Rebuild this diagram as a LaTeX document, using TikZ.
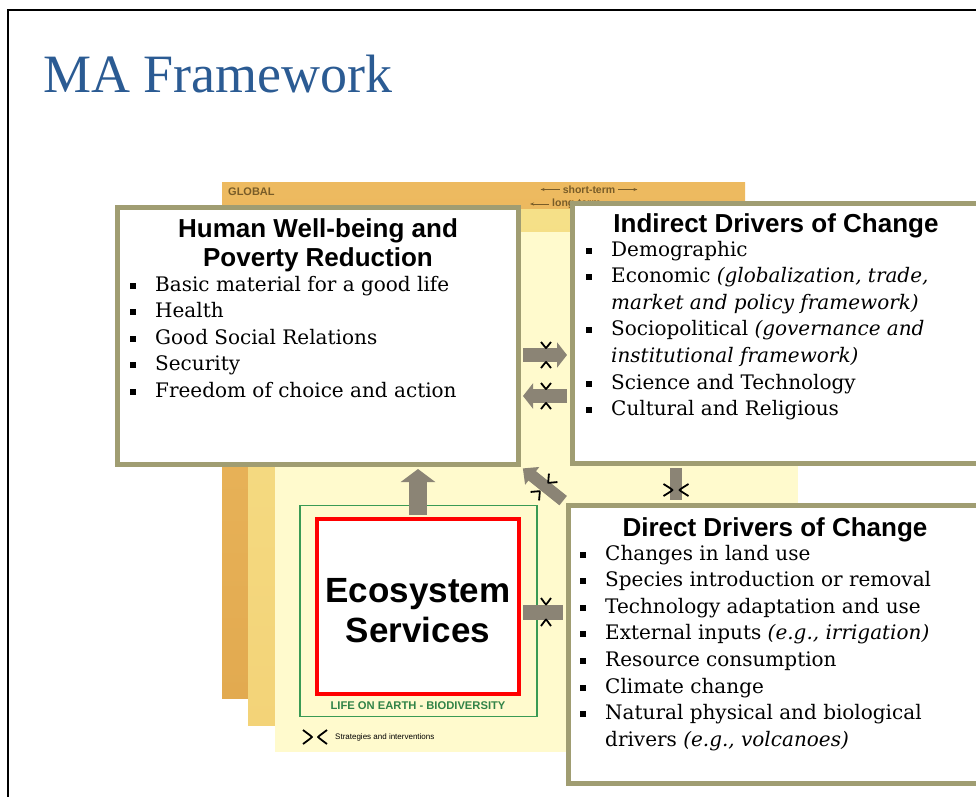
\documentclass[tikz,border=0pt]{standalone}
\usepackage{fontspec}
\setmainfont{DejaVu Serif}
\newfontfamily\headfont{Liberation Sans}
\newfontfamily\titlefont{Liberation Serif}
\usetikzlibrary{arrows.meta,calc,positioning}
\definecolor{frameol}{RGB}{160,157,114}
\definecolor{flowgray}{RGB}{139,132,117}
\definecolor{titleblue}{RGB}{43,91,147}
\definecolor{lifegreen}{RGB}{58,154,84}
\definecolor{labelbrown}{RGB}{120,92,40}
\newcommand\bitem{\makebox[25pt][l]{\rule[2.5pt]{6pt}{6pt}}}
\newcommand\bcont{\hspace*{25pt}}

\begin{document}
\begin{tikzpicture}[x=1pt,y=-1pt,>=Stealth,
  mabox/.style={draw=frameol,line width=5pt,fill=white,inner sep=0pt},
  bodytext/.style={anchor=base west,align=left,inner sep=0pt,font=\fontsize{20}{26.6}\selectfont},
  headtext/.style={anchor=base,align=center,inner sep=0pt,font=\headfont\bfseries\fontsize{26}{29}\selectfont},
  smalllbl/.style={inner sep=0pt,text=labelbrown,font=\headfont\bfseries\fontsize{10.5}{12}\selectfont},
  flow/.style={draw=flowgray,line width=#1},
  pics/strat/.style n args={3}{code={
    \draw[line width=1.8pt,line join=round]
      (-#2,-#3) .. controls (-#1-1,-1) .. (-#1,0) .. controls (-#1-1,1) .. (-#2,#3)
      (#2,-#3) .. controls (#1+1,-1) .. (#1,0) .. controls (#1+1,1) .. (#2,#3);}}]
\useasboundingbox (0,0) rectangle (976,796);
\clip (0,0) rectangle (976,796);
\draw[line width=2pt] (8,800) -- (8,10) -- (980,10);
\node[anchor=base west,inner sep=0pt,text=titleblue,font=\titlefont\fontsize{54}{60}\selectfont] (title) at (43,92) {MA Framework};

\shade[top color={rgb,255:red,237;green,186;blue,96},bottom color={rgb,255:red,226;green,170;blue,80}] (222,182) rectangle (745,698);
\shade[top color={rgb,255:red,245;green,224;blue,136},bottom color={rgb,255:red,243;green,211;blue,120}] (248,209) rectangle (772,725);
\fill[fill={rgb,255:red,255;green,250;blue,205}] (275,232) rectangle (798,752);
\node[smalllbl,anchor=west,font=\headfont\bfseries\fontsize{11}{12}\selectfont] (global) at (228,192) {GLOBAL};
\node[smalllbl] (shortt) at (589,189.5) {short-term};
\draw[labelbrown,line width=0.8pt,-{Stealth[length=4pt]}] ([xshift=-3pt]shortt.west) -- +(-19,0);
\draw[labelbrown,line width=0.8pt,-{Stealth[length=4pt]}] ([xshift=3pt]shortt.east) -- +(19,0);
\node[smalllbl,anchor=west] (longt) at (552,204) {long-term};
\draw[labelbrown,line width=0.8pt,-{Stealth[length=4pt]}] ([xshift=-3pt]longt.west) -- +(-19,0);

\node[draw=lifegreen,line width=1.8pt,inner sep=0pt,minimum width=237pt,minimum height=211pt] (life) at (418.5,611) {};
\node[text=lifegreen!85!black,inner sep=0pt,font=\headfont\bfseries\fontsize{11.2}{12}\selectfont] (lifelbl) at (418,706) {LIFE ON EARTH - BIODIVERSITY};

\node[mabox,minimum width=401pt,minimum height=257pt] (hwb) at (317.5,335.5) {};
\node[mabox,minimum width=420pt,minimum height=260pt] (ind) at (782,333) {};
\node[mabox,minimum width=424pt,minimum height=278pt] (dir) at (780,644) {};
\node[draw=red,line width=4pt,fill=white,inner sep=0pt,minimum width=202pt,minimum height=175pt] (eco) at (418,606.5) {};
\node[align=center,inner sep=0pt,font=\headfont\bfseries\fontsize{35}{40}\selectfont] (ecotext) at ($(eco.center)+(0,4)$) {Ecosystem\\Services};

\coordinate (hwbout) at ($(hwb.east)+(0,19.5)$);
\coordinate (hwbin) at ($(hwb.east)+(0,60.5)$);
\coordinate (ecoflow) at ($(eco.east)+(0,5.5)$);
\coordinate (drvflow) at (676,484);
\draw[flow=14pt,-{Triangle[width=25pt,length=10pt]},shorten <=2.5pt,shorten >=2.5pt] (hwbout) -- (hwbout -| ind.west);
\draw[flow=14pt,-{Triangle[width=25pt,length=10pt]},shorten <=2.5pt,shorten >=2.5pt] (hwbin -| ind.west) -- (hwbin);
\draw[flow=18pt,-{Triangle[width=34pt,length=13pt]},shorten <=2pt,shorten >=2.5pt] (eco.north) -- (eco.north |- hwb.south);
\draw[flow=12pt,-{Triangle[width=22pt,length=12pt]},shorten <=3pt,shorten >=3pt] (dir.north west) -- (hwb.south east);
\draw[flow=12pt,shorten <=2.5pt,shorten >=2.5pt] (drvflow |- ind.south) -- (drvflow |- dir.north);
\draw[flow=15pt,shorten <=2pt,shorten >=2.5pt] (ecoflow) -- (ecoflow -| dir.west);

\pic[rotate=90] at (546,355) {strat={7}{13}{5}};
\pic[rotate=90] at (546,396) {strat={7}{13}{5}};
\pic[rotate=90] at (546,612) {strat={7.5}{14}{5}};
\pic at (676,490) {strat={3.5}{12.5}{6}};
\pic[rotate=45] at (544,487) {strat={6}{13}{6}};
\pic at (315,737) {strat={3}{12}{7}};
\node[anchor=west,inner sep=0pt,font=\headfont\fontsize{8}{9}\selectfont] (legend) at (335,737) {Strategies and interventions};

\node[headtext] (hwbhead) at (318,266.5) {Human Well-being and\\Poverty Reduction};
\node[headtext] (indhead) at (776,232.5) {Indirect Drivers of Change};
\node[headtext] (dirhead) at (775,536.5) {Direct Drivers of Change};

\node[bodytext] (hwbtext) at (130,397.4) {\bitem Basic material for a good life\\
  \bitem Health\\
  \bitem Good Social Relations\\
  \bitem Security\\
  \bitem Freedom of choice and action};
\node[bodytext] (indtext) at (586,415.6) {\bitem Demographic\\
  \bitem Economic \textit{(globalization, trade,}\\
  \bcont\textit{market and policy framework)}\\
  \bitem Sociopolitical \textit{(governance and}\\
  \bcont\textit{institutional framework)}\\
  \bitem Science and Technology\\
  \bitem Cultural and Religious};
\node[bodytext] (dirtext) at (580,746.2) {\bitem Changes in land use\\
  \bitem Species introduction or removal\\
  \bitem Technology adaptation and use\\
  \bitem External inputs \textit{(e.g., irrigation)}\\
  \bitem Resource consumption\\
  \bitem Climate change\\
  \bitem Natural physical and biological\\
  \bcont drivers \textit{(e.g., volcanoes)}};
\end{tikzpicture}
\end{document}
